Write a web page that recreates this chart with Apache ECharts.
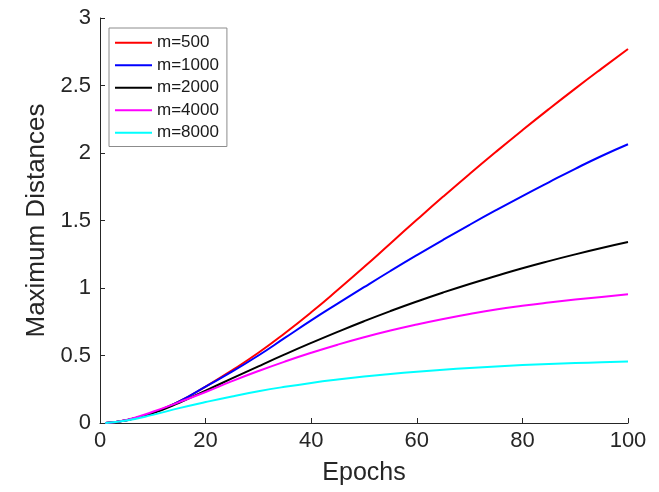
<!DOCTYPE html>
<html>
<head>
<meta charset="utf-8">
<script src="https://cdn.jsdelivr.net/npm/echarts@6/dist/echarts.min.js"></script>
<style>html,body{margin:0;padding:0;background:#fff;}#chart{width:659px;height:492px;}</style>
</head>
<body>
<div id="chart"></div>
<script>
const epochs = [1, 5, 10, 15, 20, 25, 30, 35, 40, 45, 50, 55, 60, 65, 70, 75, 80, 85, 90, 95, 100];
const seriesNames = ['m=500', 'm=1000', 'm=2000', 'm=4000', 'm=8000'];
const m500  = [0, 0.02, 0.075, 0.16, 0.27, 0.39, 0.52, 0.665, 0.82, 0.985, 1.155, 1.33, 1.505, 1.677, 1.845, 2.009, 2.169, 2.325, 2.477, 2.625, 2.77];
const m1000 = [0, 0.02, 0.075, 0.16, 0.27, 0.38, 0.50, 0.63, 0.76, 0.884, 1.006, 1.126, 1.243, 1.357, 1.468, 1.576, 1.681, 1.783, 1.883, 1.978, 2.065];
const m2000 = [0, 0.02, 0.073, 0.15, 0.24, 0.33, 0.42, 0.508, 0.593, 0.675, 0.754, 0.829, 0.90, 0.967, 1.03, 1.089, 1.146, 1.199, 1.249, 1.296, 1.34];
const m4000 = [0, 0.022, 0.083, 0.155, 0.23, 0.31, 0.385, 0.455, 0.52, 0.58, 0.635, 0.685, 0.73, 0.771, 0.808, 0.841, 0.868, 0.892, 0.914, 0.934, 0.953];
const m8000 = [0, 0.018, 0.06, 0.11, 0.155, 0.197, 0.235, 0.268, 0.297, 0.322, 0.344, 0.363, 0.380, 0.395, 0.408, 0.419, 0.429, 0.437, 0.444, 0.450, 0.455];
const colors = ['#ff0000', '#0000ff', '#000000', '#ff00ff', '#00ffff'];
const allValues = [m500, m1000, m2000, m4000, m8000];

const chart = echarts.init(document.getElementById('chart'));
const axisColor = '#262626';
const fontFamily = 'Liberation Sans, Arial, sans-serif';
chart.setOption({
  animation: false,
  backgroundColor: '#ffffff',
  grid: { left: 100, right: 31, top: 18, bottom: 69, containLabel: false },
  legend: {
    orient: 'vertical',
    left: 109, top: 28,
    padding: [6, 8, 5, 6],
    itemWidth: 37, itemHeight: 2, itemGap: 5,
    icon: 'rect',
    borderColor: '#8c8c8c', borderWidth: 1,
    backgroundColor: '#ffffff',
    textStyle: { fontSize: 17, lineHeight: 17.5, color: '#1a1a1a', fontFamily: fontFamily },
    data: seriesNames
  },
  xAxis: {
    type: 'value', min: 0, max: 100, interval: 20,
    name: 'Epochs', nameLocation: 'middle', nameGap: 38,
    nameTextStyle: { fontSize: 25, color: '#262626', fontFamily: fontFamily },
    axisLine: { show: true, lineStyle: { color: axisColor, width: 1 } },
    axisTick: { show: true, inside: true, length: 5, lineStyle: { color: axisColor } },
    axisLabel: { fontSize: 22, color: '#262626', margin: 7, fontFamily: fontFamily },
    splitLine: { show: false }
  },
  yAxis: {
    type: 'value', min: 0, max: 3, interval: 0.5,
    name: 'Maximum Distances', nameLocation: 'middle', nameGap: 46,
    nameTextStyle: { fontSize: 26, color: '#262626', fontFamily: fontFamily },
    axisLine: { show: true, lineStyle: { color: axisColor, width: 1 } },
    axisTick: { show: true, inside: true, length: 5, lineStyle: { color: axisColor } },
    axisLabel: { fontSize: 22, color: '#262626', margin: 9, fontFamily: fontFamily },
    splitLine: { show: false }
  },
  series: seriesNames.map((name, i) => ({
    name: name,
    type: 'line',
    smooth: 0.5,
    symbol: 'none',
    lineStyle: { width: 2, color: colors[i] },
    itemStyle: { color: colors[i] },
    data: epochs.map((e, j) => [e, allValues[i][j]])
  }))
});
</script>
</body>
</html>
